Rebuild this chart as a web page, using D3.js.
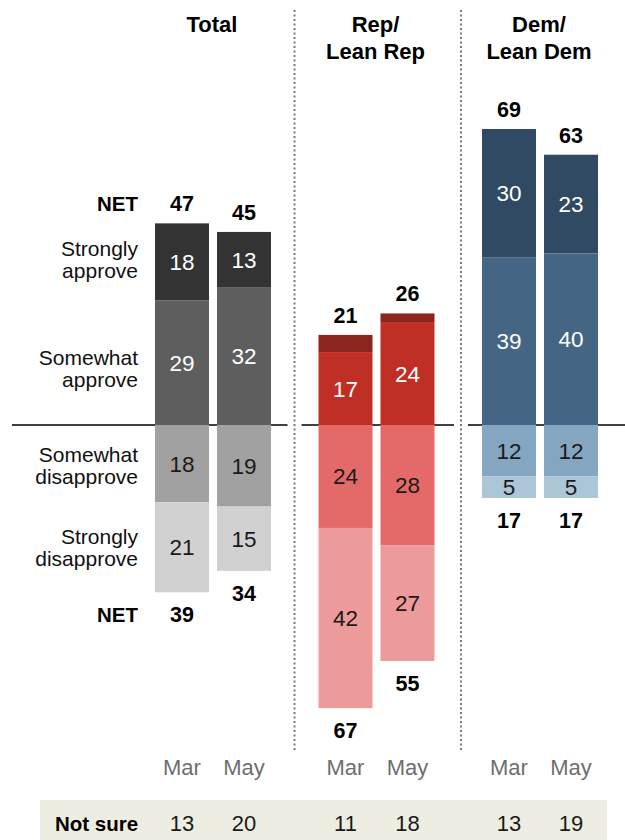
<!DOCTYPE html>
<html>
<head>
<meta charset="utf-8">
<script src="https://cdn.jsdelivr.net/npm/d3@7"></script>
<style>
  html, body { margin: 0; padding: 0; background: #fff; }
  svg { display: block; font-family: "Liberation Sans", Arial, sans-serif; }
</style>
</head>
<body>
<svg id="chart" width="625" height="840"></svg>
<script>
// ---------- data ----------
const groups = ["Total", "Rep/Lean Rep", "Dem/Lean Dem"];
const groupTitles = [["Total"], ["Rep/", "Lean Rep"], ["Dem/", "Lean Dem"]];
const waves = ["Mar", "May"];
// order within each array: Total Mar, Total May, Rep Mar, Rep May, Dem Mar, Dem May
const stronglyApprove    = [18, 13, 4, 2, 30, 23];
const somewhatApprove    = [29, 32, 17, 24, 39, 40];
const somewhatDisapprove = [18, 19, 24, 28, 12, 12];
const stronglyDisapprove = [21, 15, 42, 27, 5, 5];
const netApprove    = [47, 45, 21, 26, 69, 63];
const netDisapprove = [39, 34, 67, 55, 17, 17];
const notSure = [13, 20, 11, 18, 13, 19];
const categoryLabels = [["Strongly", "approve"], ["Somewhat", "approve"], ["Somewhat", "disapprove"], ["Strongly", "disapprove"]];

const palettes = [
  ["#333333", "#5e5e5e", "#a1a1a1", "#d1d1d1"],
  ["#8c241f", "#bf2f25", "#e46a69", "#ed9b9a"],
  ["#2f4a62", "#456584", "#84a6c1", "#adc6d7"]
];

// ---------- scales ----------
const svg = d3.select("#chart");
const gx = d3.scaleBand().domain(groups).range([155, 645.5]).padding(0);
const wx = d3.scaleBand().domain(waves).range([0, 116]).paddingInner(0.129).paddingOuter(0);
const y = d3.scaleLinear().domain([-70, 70]).range([425 + 70 * 4.29, 425 - 70 * 4.29]);
const bw = wx.bandwidth();

// build bar records
const bars = [];
groups.forEach((g, gi) => {
  waves.forEach((w, wi) => {
    const i = gi * 2 + wi;
    const x = gx(g) + wx(w);
    const sa = stronglyApprove[i], swa = somewhatApprove[i];
    const swd = somewhatDisapprove[i], sd = stronglyDisapprove[i];
    bars.push({ gi, wi, i, x, cx: x + bw / 2,
      segs: [
        { k: 0, v: sa,  y0: swa,        y1: swa + sa },
        { k: 1, v: swa, y0: 0,          y1: swa },
        { k: 2, v: swd, y0: -swd,       y1: 0 },
        { k: 3, v: sd,  y0: -swd - sd,  y1: -swd }
      ],
      top: swa + sa, bottom: -(swd + sd)
    });
  });
});

// ---------- separators & baseline ----------
const sepX = [gx(groups[1]) - 24, gx(groups[2]) - 21];
svg.append("line").attr("x1", 12).attr("x2", 625).attr("y1", y(0)).attr("y2", y(0))
  .attr("stroke", "#000").attr("stroke-width", 1.3);
sepX.forEach(sx => {
  svg.append("rect").attr("x", sx - 7).attr("y", y(0) - 3).attr("width", 14).attr("height", 6).attr("fill", "#fff");
  svg.append("line").attr("x1", sx).attr("x2", sx).attr("y1", 10).attr("y2", 752)
    .attr("stroke", "#7a7a7a").attr("stroke-width", 2).attr("stroke-dasharray", "2,2.5");
});

// ---------- bars ----------
const barG = svg.append("g");
bars.forEach(b => {
  b.segs.forEach(s => {
    barG.append("rect")
      .attr("x", b.x).attr("width", bw)
      .attr("y", y(s.y1)).attr("height", y(s.y0) - y(s.y1))
      .attr("fill", palettes[b.gi][s.k]);
    if (s.v >= 5) {
      barG.append("text")
        .attr("x", b.cx).attr("y", (y(s.y0) + y(s.y1)) / 2 + 8)
        .attr("text-anchor", "middle").attr("font-size", 22.5)
        .attr("fill", s.k < 2 ? "#fff" : "#1a1a1a")
        .text(s.v);
    }
  });
  // net labels
  svg.append("text").attr("x", b.cx).attr("y", y(b.top) - 12)
    .attr("text-anchor", "middle").attr("font-size", 21.5).attr("font-weight", "bold")
    .text(netApprove[b.i]);
  svg.append("text").attr("x", b.cx).attr("y", y(b.bottom) + 30)
    .attr("text-anchor", "middle").attr("font-size", 21.5).attr("font-weight", "bold")
    .text(netDisapprove[b.i]);
  // wave labels
  svg.append("text").attr("x", b.cx).attr("y", 775)
    .attr("text-anchor", "middle").attr("font-size", 22).attr("fill", "#6e6e6e")
    .text(waves[b.wi]);
});

// ---------- group titles ----------
groups.forEach((g, gi) => {
  const cx = gx(g) + 57;
  groupTitles[gi].forEach((t, li) => {
    svg.append("text").attr("x", cx).attr("y", 32 + li * 27)
      .attr("text-anchor", "middle").attr("font-size", 22).attr("font-weight", "bold")
      .text(t);
  });
});

// ---------- category labels (left of Total Mar) ----------
const ref = bars[0];
const labelX = 138;
const labelShift = [-6, 2, -2, -3];
ref.segs.forEach((s, k) => {
  const mid = (y(s.y0) + y(s.y1)) / 2;
  categoryLabels[k].forEach((t, li) => {
    svg.append("text").attr("x", labelX).attr("y", mid + labelShift[k] + li * 22)
      .attr("text-anchor", "end").attr("font-size", 21).attr("fill", "#111")
      .text(t);
  });
});
svg.append("text").attr("x", labelX).attr("y", y(ref.top) - 12)
  .attr("text-anchor", "end").attr("font-size", 20.5).attr("font-weight", "bold").text("NET");
svg.append("text").attr("x", labelX).attr("y", y(ref.bottom) + 30)
  .attr("text-anchor", "end").attr("font-size", 20.5).attr("font-weight", "bold").text("NET");

// ---------- not sure row ----------
svg.append("rect").attr("x", 40).attr("y", 800).attr("width", 567).attr("height", 40).attr("fill", "#eeede2");
svg.append("text").attr("x", 55).attr("y", 831).attr("font-size", 20.5).attr("font-weight", "bold").text("Not sure");
bars.forEach(b => {
  svg.append("text").attr("x", b.cx).attr("y", 831)
    .attr("text-anchor", "middle").attr("font-size", 22).attr("fill", "#1a1a1a")
    .text(notSure[b.i]);
});
</script>
</body>
</html>
